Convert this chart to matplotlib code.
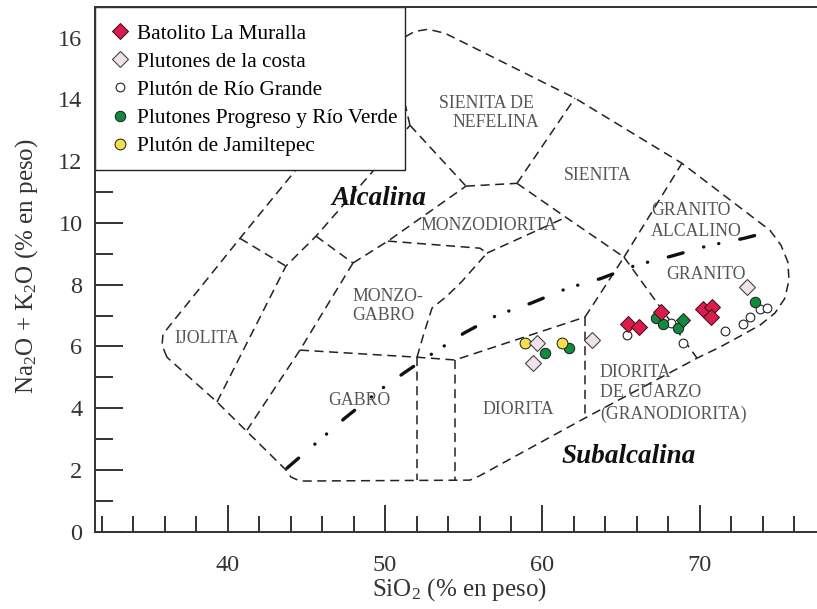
import matplotlib
matplotlib.use("Agg")
import matplotlib.pyplot as plt
from matplotlib.ticker import MultipleLocator
from matplotlib.patches import Rectangle

plt.rcParams['font.family'] = ['Liberation Serif', 'DejaVu Serif']
plt.rcParams['mathtext.fontset'] = 'custom'
plt.rcParams['mathtext.rm'] = 'Liberation Serif'
plt.rcParams['mathtext.it'] = 'Liberation Serif:italic'
plt.rcParams['mathtext.bf'] = 'Liberation Serif:bold'
plt.rcParams['lines.scale_dashes'] = False

# ---- samples: SiO2 (wt%) and Na2O+K2O (wt%) ----
muralla_sio2 = [65.45, 66.16, 67.53, 70.22, 70.79, 70.69]
muralla_alk = [6.74, 6.63, 7.10, 7.20, 7.28, 6.96]

costa_sio2 = [59.67, 59.38, 63.13, 72.97]
costa_alk = [6.10, 5.47, 6.20, 7.93]

riogrande_sio2 = [65.35, 68.14, 68.95, 71.59, 72.76, 73.18, 73.82, 74.24]
riogrande_alk = [6.37, 6.76, 6.10, 6.50, 6.74, 6.96, 7.20, 7.23]

progreso_sio2 = [60.16, 61.68, 67.21, 67.64, 68.63, 73.50]
progreso_alk = [5.79, 5.94, 6.91, 6.74, 6.58, 7.44]
progreso_d_sio2 = [68.95]
progreso_d_alk = [6.85]

jamiltepec_sio2 = [58.89, 61.22]
jamiltepec_alk = [6.12, 6.10]

series_names = ["Batolito La Muralla", "Plutones de la costa", "Plutón de Río Grande",
                "Plutones Progreso y Río Verde", "Plutón de Jamiltepec"]

# ---- classification field boundaries (SiO2, Na2O+K2O) ----
outer_boundary = [(36.14, 5.65), (35.83, 6.04), (35.89, 6.40), (40.78, 9.50), (44.21, 11.64),
                  (47.77, 13.97), (50.63, 15.85), (51.90, 16.20), (52.73, 16.27), (53.81, 16.14),
                  (62.06, 14.04), (68.86, 11.93), (74.45, 9.76), (75.15, 9.28), (75.59, 8.73),
                  (75.66, 8.15), (75.40, 7.56), (74.77, 7.08), (73.82, 6.69), (72.55, 6.33),
                  (71.28, 5.98), (69.82, 5.62), (62.70, 3.68), (55.97, 1.80), (55.39, 1.67),
                  (44.59, 1.64), (44.02, 1.77), (43.70, 2.00), (39.32, 4.20), (36.14, 5.65)]
ijolite_top = [(40.78, 9.50), (43.70, 8.60)]
ijolite_right = [(39.32, 4.20), (43.70, 8.60), (45.61, 9.57), (49.17, 11.64), (51.58, 13.16)]
nephsyenite_stem = [(51.58, 13.16), (50.63, 15.27)]
cross_line = [(45.61, 9.57), (47.96, 8.70)]
gabbro_left = [(47.96, 8.70), (44.59, 5.88), (41.23, 3.29)]
gabbro_top = [(44.59, 5.88), (52.03, 5.65), (54.44, 5.56), (62.70, 6.95)]
gabbro_right = [(52.03, 5.65), (52.03, 1.67)]
diorite_left = [(54.44, 5.56), (54.44, 1.67)]
monzodiorite_left = [(47.96, 8.70), (50.18, 9.41), (55.14, 11.19)]
monzodiorite_bottom = [(50.18, 9.41), (56.03, 9.18), (56.47, 9.02)]
monzogabbro_right = [(52.03, 5.65), (52.47, 6.43), (52.98, 7.24), (53.93, 7.63),
                     (54.89, 8.11), (56.47, 9.02)]
monzodiorite_right = [(56.47, 9.02), (61.49, 10.18)]
nephsyenite_left = [(51.58, 13.16), (55.14, 11.19)]
nephsyenite_bottom = [(55.14, 11.19), (58.38, 11.28)]
nephsyenite_right = [(58.38, 11.28), (62.06, 14.04)]
syenite_bottom = [(58.38, 11.28), (61.49, 10.18), (65.18, 8.89)]
alkgranite_left = [(65.18, 8.89), (68.86, 11.93)]
granite_left = [(65.18, 8.89), (69.82, 5.62)]
granodiorite_left = [(62.70, 6.95), (62.70, 3.68)]
granodiorite_top = [(62.70, 6.95), (65.18, 8.89)]

field_lines = [outer_boundary, ijolite_top, ijolite_right, nephsyenite_stem, cross_line,
               gabbro_left, gabbro_top, gabbro_right, diorite_left, monzodiorite_left,
               monzodiorite_bottom, monzogabbro_right, monzodiorite_right, nephsyenite_left,
               nephsyenite_bottom, nephsyenite_right, syenite_bottom, alkgranite_left,
               granite_left, granodiorite_left, granodiorite_top]

# alkaline / subalkaline divide (Irvine & Baragar)
alkaline_divide = [(43.77, 2.06), (46.05, 3.06), (47.45, 3.68), (49.68, 4.59), (51.20, 5.14),
                   (53.04, 5.78), (55.01, 6.43), (57.11, 7.01), (59.27, 7.40), (61.62, 7.89),
                   (63.72, 8.20), (65.94, 8.63), (68.17, 8.92), (70.45, 9.25), (72.80, 9.50),
                   (74.33, 9.70)]

# field names: text, SiO2, alkalis, horizontal alignment
field_names = [("SIENITA DE", 56.41, 13.87, "center"), ("NEFELINA", 57.05, 13.26, "center"),
               ("SIENITA", 63.53, 11.54, "center"), ("MONZODIORITA", 56.60, 9.93, "center"),
               ("GRANITO", 66.89, 10.41, "left"), ("ALCALINO", 66.89, 9.73, "left"),
               ("GRANITO", 70.39, 8.34, "center"), ("MONZO-", 47.92, 7.63, "left"),
               ("GABRO", 47.92, 7.01, "left"), ("IJOLITA", 38.68, 6.27, "center"),
               ("GABRO", 48.34, 4.26, "center"), ("DIORITA", 58.44, 3.97, "center"),
               ("DIORITA", 63.65, 5.14, "left"), ("DE CUARZO", 63.65, 4.52, "left"),
               ("(GRANODIORITA)", 63.65, 3.81, "left")]
series_labels = [("Alcalina", 49.61, 10.80), ("Subalcalina", 65.50, 2.42)]

# ---- figure ----
W, H = 817, 609
fig = plt.figure(figsize=(W / 100, H / 100), dpi=100)
ax = fig.add_axes([95 / W, 1 - 531.7 / H, 1 - 95 / W, (531.7 - 6.7) / H])
ax.set_xlim(31.57, 77.44)
ax.set_ylim(0, 17)

ink = "#222222"
for line in field_lines:
    xs, ys = zip(*line)
    ax.plot(xs, ys, color=ink, lw=1.1, dashes=(6.5, 4.0), zorder=2)

xs, ys = zip(*alkaline_divide)
ax.plot(xs, ys, color="#111111", lw=2.4, dashes=(11, 15.4, 0.1, 11, 0.1, 15.4),
        dash_capstyle="round", zorder=2)

grey = "#555555"
for text, x, y, ha in field_names:
    ax.text(x, y, text, ha=ha, va="center", fontsize=12.8, color=grey, zorder=3)
for text, x, y in series_labels:
    ax.text(x, y, text, ha="center", va="center", fontsize=19.5, fontweight="bold",
            fontstyle="italic", color="#111111", zorder=3)

# samples
ax.plot(riogrande_sio2, riogrande_alk, "o", ms=6.3, mfc="white", mec=ink, mew=0.8,
        zorder=4, label=series_names[2])
ax.plot(progreso_sio2, progreso_alk, "o", ms=7.5, mfc="#118a3f", mec="#1a1a1a", mew=0.7,
        zorder=5, label=series_names[3])
ax.plot(progreso_d_sio2, progreso_d_alk, "D", ms=7.6, mfc="#118a3f", mec="#1a1a1a", mew=0.7,
        zorder=5)
ax.plot(jamiltepec_sio2, jamiltepec_alk, "o", ms=7.8, mfc="#f3df4a", mec="#1a1a1a", mew=0.7,
        zorder=5, label=series_names[4])
ax.plot(costa_sio2, costa_alk, "D", ms=8.3, mfc="#f0e2ea", mec="#444444", mew=0.8,
        zorder=6, label=series_names[1])
ax.plot(muralla_sio2, muralla_alk, "D", ms=7.8, mfc="#d91c4c", mec="#3a0a14", mew=0.7,
        zorder=7, label=series_names[0])

# legend box (drawn separately so its outline hugs the entries)
box_right = (405 - 95) / (W - 95)
box_bottom = (531.7 - 170) / (531.7 - 6.7)
ax.add_patch(Rectangle((0, box_bottom), box_right, 1 - box_bottom, transform=ax.transAxes,
                       facecolor="white", edgecolor=ink, lw=1.0, zorder=9, clip_on=False))

handles, labels = ax.get_legend_handles_labels()
order = [labels.index(n) for n in series_names]
leg = ax.legend([handles[i] for i in order], [labels[i] for i in order],
                loc="upper left", bbox_to_anchor=(0, 1), borderaxespad=0,
                fontsize=15.3, frameon=False, borderpad=0.8, handlelength=0.75,
                handletextpad=0.42, labelspacing=0.39, numpoints=1)
leg.set_zorder(10)

# axes styling
for side in ("left", "bottom", "top"):
    ax.spines[side].set_linewidth(1.4)
    ax.spines[side].set_color("#333333")
    ax.spines[side].set_zorder(11)
ax.spines["right"].set_visible(False)

ax.xaxis.set_major_locator(MultipleLocator(10))
ax.xaxis.set_minor_locator(MultipleLocator(2))
ax.yaxis.set_major_locator(MultipleLocator(2))
ax.yaxis.set_minor_locator(MultipleLocator(1))
ax.tick_params(axis="x", which="major", direction="in", length=19.2, width=1.4,
               color="#333333", labelsize=17.5, pad=17, labelcolor="#333333")
ax.tick_params(axis="x", which="minor", direction="in", length=11.3, width=1.4,
               color="#333333")
ax.tick_params(axis="y", which="major", direction="in", length=20.4, width=1.4,
               color="#333333", labelsize=17.5, pad=9, labelcolor="#333333")
ax.tick_params(axis="y", which="minor", direction="in", length=12.8, width=1.4,
               color="#333333")
ax.tick_params(top=False, right=False, which="both")

fig.text(460 / W, 1 - 590 / H, "SiO$_2$ (% en peso)", ha="center", va="center",
         fontsize=18, color="#333333")
fig.text(27 / W, 1 - 266 / H, "Na$_2$O + K$_2$O (% en peso)", ha="center", va="center",
         rotation=90, fontsize=18, color="#333333")

fig.savefig("out.png", dpi=100)
